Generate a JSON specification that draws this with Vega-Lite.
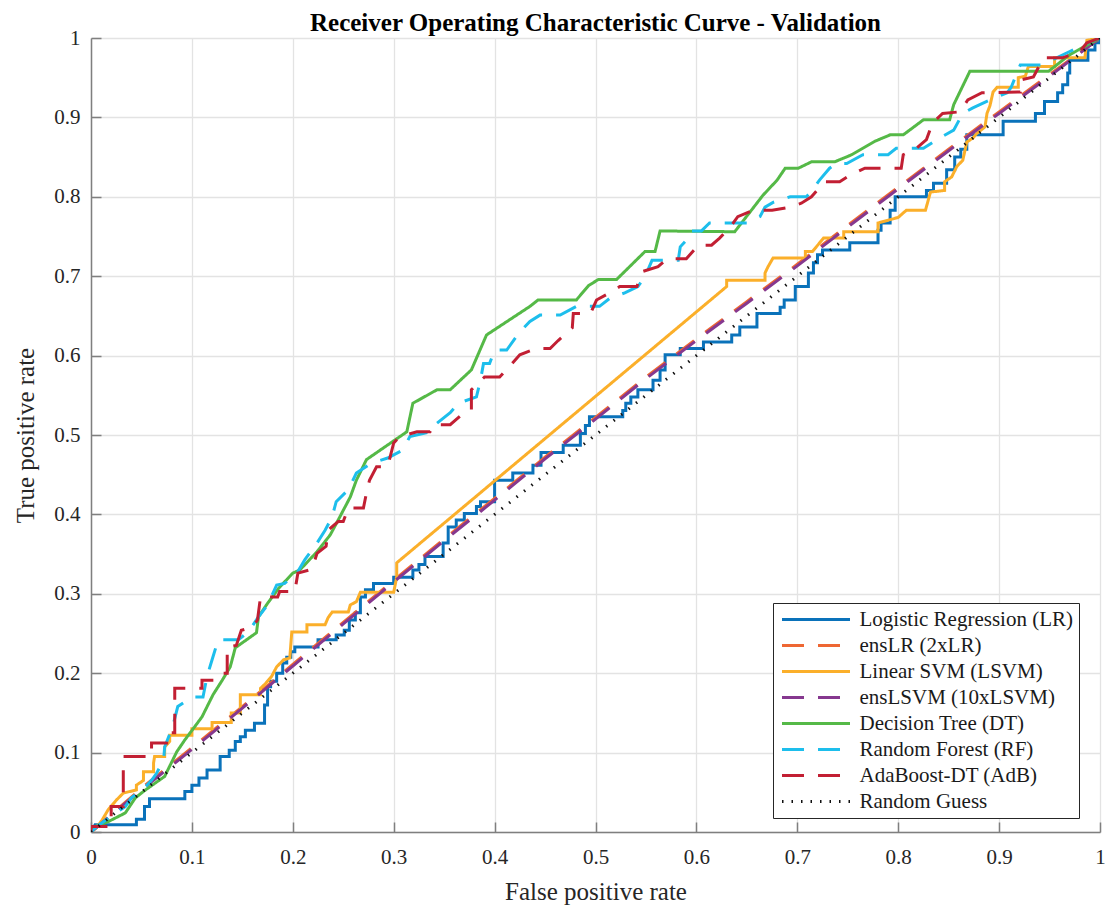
{
  "$schema": "https://vega.github.io/schema/vega-lite/v6.json",
  "width": 1009,
  "height": 794,
  "autosize": "none",
  "padding": {"left": 91, "top": 38, "right": 12, "bottom": 74},
  "background": "white",
  "title": {"text": "Receiver Operating Characteristic Curve - Validation", "font": "Liberation Serif", "fontSize": 25, "fontWeight": "bold", "color": "#000000", "anchor": "middle", "frame": "group", "offset": -8.5},
  "config": {"view": {"stroke": null}},
  "data": {"values": [
    {"m":"Logistic Regression (LR)","x":0,"y":0},{"m":"Logistic Regression (LR)","x":0.004,"y":0.009},{"m":"Logistic Regression (LR)","x":0.045,"y":0.009},{"m":"Logistic Regression (LR)","x":0.045,"y":0.016},{"m":"Logistic Regression (LR)","x":0.053,"y":0.016},{"m":"Logistic Regression (LR)","x":0.053,"y":0.032},{"m":"Logistic Regression (LR)","x":0.058,"y":0.032},{"m":"Logistic Regression (LR)","x":0.058,"y":0.042},{"m":"Logistic Regression (LR)","x":0.093,"y":0.042},{"m":"Logistic Regression (LR)","x":0.093,"y":0.051},{"m":"Logistic Regression (LR)","x":0.1,"y":0.051},{"m":"Logistic Regression (LR)","x":0.1,"y":0.059},{"m":"Logistic Regression (LR)","x":0.107,"y":0.059},{"m":"Logistic Regression (LR)","x":0.107,"y":0.068},{"m":"Logistic Regression (LR)","x":0.115,"y":0.068},{"m":"Logistic Regression (LR)","x":0.115,"y":0.078},{"m":"Logistic Regression (LR)","x":0.128,"y":0.078},{"m":"Logistic Regression (LR)","x":0.128,"y":0.095},{"m":"Logistic Regression (LR)","x":0.137,"y":0.095},{"m":"Logistic Regression (LR)","x":0.137,"y":0.103},{"m":"Logistic Regression (LR)","x":0.143,"y":0.103},{"m":"Logistic Regression (LR)","x":0.143,"y":0.114},{"m":"Logistic Regression (LR)","x":0.148,"y":0.114},{"m":"Logistic Regression (LR)","x":0.148,"y":0.12},{"m":"Logistic Regression (LR)","x":0.153,"y":0.12},{"m":"Logistic Regression (LR)","x":0.153,"y":0.128},{"m":"Logistic Regression (LR)","x":0.162,"y":0.128},{"m":"Logistic Regression (LR)","x":0.162,"y":0.137},{"m":"Logistic Regression (LR)","x":0.172,"y":0.137},{"m":"Logistic Regression (LR)","x":0.172,"y":0.16},{"m":"Logistic Regression (LR)","x":0.175,"y":0.16},{"m":"Logistic Regression (LR)","x":0.175,"y":0.183},{"m":"Logistic Regression (LR)","x":0.178,"y":0.183},{"m":"Logistic Regression (LR)","x":0.178,"y":0.19},{"m":"Logistic Regression (LR)","x":0.184,"y":0.19},{"m":"Logistic Regression (LR)","x":0.184,"y":0.2},{"m":"Logistic Regression (LR)","x":0.19,"y":0.2},{"m":"Logistic Regression (LR)","x":0.19,"y":0.213},{"m":"Logistic Regression (LR)","x":0.194,"y":0.213},{"m":"Logistic Regression (LR)","x":0.194,"y":0.22},{"m":"Logistic Regression (LR)","x":0.198,"y":0.22},{"m":"Logistic Regression (LR)","x":0.198,"y":0.227},{"m":"Logistic Regression (LR)","x":0.202,"y":0.227},{"m":"Logistic Regression (LR)","x":0.202,"y":0.233},{"m":"Logistic Regression (LR)","x":0.225,"y":0.233},{"m":"Logistic Regression (LR)","x":0.225,"y":0.242},{"m":"Logistic Regression (LR)","x":0.243,"y":0.242},{"m":"Logistic Regression (LR)","x":0.243,"y":0.248},{"m":"Logistic Regression (LR)","x":0.251,"y":0.248},{"m":"Logistic Regression (LR)","x":0.251,"y":0.254},{"m":"Logistic Regression (LR)","x":0.256,"y":0.254},{"m":"Logistic Regression (LR)","x":0.256,"y":0.267},{"m":"Logistic Regression (LR)","x":0.262,"y":0.267},{"m":"Logistic Regression (LR)","x":0.262,"y":0.276},{"m":"Logistic Regression (LR)","x":0.267,"y":0.276},{"m":"Logistic Regression (LR)","x":0.267,"y":0.296},{"m":"Logistic Regression (LR)","x":0.272,"y":0.296},{"m":"Logistic Regression (LR)","x":0.272,"y":0.305},{"m":"Logistic Regression (LR)","x":0.28,"y":0.305},{"m":"Logistic Regression (LR)","x":0.28,"y":0.313},{"m":"Logistic Regression (LR)","x":0.3,"y":0.313},{"m":"Logistic Regression (LR)","x":0.3,"y":0.321},{"m":"Logistic Regression (LR)","x":0.319,"y":0.321},{"m":"Logistic Regression (LR)","x":0.319,"y":0.33},{"m":"Logistic Regression (LR)","x":0.325,"y":0.33},{"m":"Logistic Regression (LR)","x":0.325,"y":0.337},{"m":"Logistic Regression (LR)","x":0.331,"y":0.337},{"m":"Logistic Regression (LR)","x":0.331,"y":0.347},{"m":"Logistic Regression (LR)","x":0.349,"y":0.347},{"m":"Logistic Regression (LR)","x":0.349,"y":0.364},{"m":"Logistic Regression (LR)","x":0.354,"y":0.364},{"m":"Logistic Regression (LR)","x":0.354,"y":0.384},{"m":"Logistic Regression (LR)","x":0.362,"y":0.384},{"m":"Logistic Regression (LR)","x":0.362,"y":0.393},{"m":"Logistic Regression (LR)","x":0.37,"y":0.393},{"m":"Logistic Regression (LR)","x":0.37,"y":0.401},{"m":"Logistic Regression (LR)","x":0.382,"y":0.401},{"m":"Logistic Regression (LR)","x":0.382,"y":0.41},{"m":"Logistic Regression (LR)","x":0.386,"y":0.41},{"m":"Logistic Regression (LR)","x":0.386,"y":0.416},{"m":"Logistic Regression (LR)","x":0.4,"y":0.416},{"m":"Logistic Regression (LR)","x":0.4,"y":0.443},{"m":"Logistic Regression (LR)","x":0.418,"y":0.443},{"m":"Logistic Regression (LR)","x":0.418,"y":0.452},{"m":"Logistic Regression (LR)","x":0.438,"y":0.452},{"m":"Logistic Regression (LR)","x":0.438,"y":0.462},{"m":"Logistic Regression (LR)","x":0.446,"y":0.462},{"m":"Logistic Regression (LR)","x":0.446,"y":0.478},{"m":"Logistic Regression (LR)","x":0.468,"y":0.478},{"m":"Logistic Regression (LR)","x":0.468,"y":0.487},{"m":"Logistic Regression (LR)","x":0.485,"y":0.487},{"m":"Logistic Regression (LR)","x":0.485,"y":0.502},{"m":"Logistic Regression (LR)","x":0.49,"y":0.502},{"m":"Logistic Regression (LR)","x":0.49,"y":0.512},{"m":"Logistic Regression (LR)","x":0.494,"y":0.512},{"m":"Logistic Regression (LR)","x":0.494,"y":0.523},{"m":"Logistic Regression (LR)","x":0.527,"y":0.523},{"m":"Logistic Regression (LR)","x":0.527,"y":0.531},{"m":"Logistic Regression (LR)","x":0.53,"y":0.531},{"m":"Logistic Regression (LR)","x":0.53,"y":0.54},{"m":"Logistic Regression (LR)","x":0.535,"y":0.54},{"m":"Logistic Regression (LR)","x":0.535,"y":0.548},{"m":"Logistic Regression (LR)","x":0.542,"y":0.548},{"m":"Logistic Regression (LR)","x":0.542,"y":0.557},{"m":"Logistic Regression (LR)","x":0.557,"y":0.557},{"m":"Logistic Regression (LR)","x":0.557,"y":0.569},{"m":"Logistic Regression (LR)","x":0.564,"y":0.569},{"m":"Logistic Regression (LR)","x":0.564,"y":0.582},{"m":"Logistic Regression (LR)","x":0.569,"y":0.582},{"m":"Logistic Regression (LR)","x":0.569,"y":0.601},{"m":"Logistic Regression (LR)","x":0.584,"y":0.601},{"m":"Logistic Regression (LR)","x":0.584,"y":0.609},{"m":"Logistic Regression (LR)","x":0.607,"y":0.609},{"m":"Logistic Regression (LR)","x":0.607,"y":0.617},{"m":"Logistic Regression (LR)","x":0.635,"y":0.617},{"m":"Logistic Regression (LR)","x":0.635,"y":0.626},{"m":"Logistic Regression (LR)","x":0.643,"y":0.626},{"m":"Logistic Regression (LR)","x":0.643,"y":0.636},{"m":"Logistic Regression (LR)","x":0.66,"y":0.636},{"m":"Logistic Regression (LR)","x":0.66,"y":0.653},{"m":"Logistic Regression (LR)","x":0.683,"y":0.653},{"m":"Logistic Regression (LR)","x":0.683,"y":0.661},{"m":"Logistic Regression (LR)","x":0.687,"y":0.661},{"m":"Logistic Regression (LR)","x":0.687,"y":0.67},{"m":"Logistic Regression (LR)","x":0.698,"y":0.67},{"m":"Logistic Regression (LR)","x":0.698,"y":0.687},{"m":"Logistic Regression (LR)","x":0.711,"y":0.687},{"m":"Logistic Regression (LR)","x":0.711,"y":0.704},{"m":"Logistic Regression (LR)","x":0.716,"y":0.704},{"m":"Logistic Regression (LR)","x":0.716,"y":0.717},{"m":"Logistic Regression (LR)","x":0.72,"y":0.717},{"m":"Logistic Regression (LR)","x":0.72,"y":0.727},{"m":"Logistic Regression (LR)","x":0.725,"y":0.727},{"m":"Logistic Regression (LR)","x":0.725,"y":0.733},{"m":"Logistic Regression (LR)","x":0.752,"y":0.733},{"m":"Logistic Regression (LR)","x":0.752,"y":0.742},{"m":"Logistic Regression (LR)","x":0.78,"y":0.742},{"m":"Logistic Regression (LR)","x":0.78,"y":0.758},{"m":"Logistic Regression (LR)","x":0.783,"y":0.758},{"m":"Logistic Regression (LR)","x":0.783,"y":0.767},{"m":"Logistic Regression (LR)","x":0.792,"y":0.767},{"m":"Logistic Regression (LR)","x":0.792,"y":0.783},{"m":"Logistic Regression (LR)","x":0.797,"y":0.783},{"m":"Logistic Regression (LR)","x":0.797,"y":0.8},{"m":"Logistic Regression (LR)","x":0.828,"y":0.8},{"m":"Logistic Regression (LR)","x":0.828,"y":0.808},{"m":"Logistic Regression (LR)","x":0.835,"y":0.808},{"m":"Logistic Regression (LR)","x":0.835,"y":0.817},{"m":"Logistic Regression (LR)","x":0.848,"y":0.817},{"m":"Logistic Regression (LR)","x":0.848,"y":0.834},{"m":"Logistic Regression (LR)","x":0.856,"y":0.834},{"m":"Logistic Regression (LR)","x":0.856,"y":0.85},{"m":"Logistic Regression (LR)","x":0.862,"y":0.85},{"m":"Logistic Regression (LR)","x":0.862,"y":0.86},{"m":"Logistic Regression (LR)","x":0.868,"y":0.86},{"m":"Logistic Regression (LR)","x":0.868,"y":0.878},{"m":"Logistic Regression (LR)","x":0.904,"y":0.878},{"m":"Logistic Regression (LR)","x":0.904,"y":0.895},{"m":"Logistic Regression (LR)","x":0.936,"y":0.895},{"m":"Logistic Regression (LR)","x":0.936,"y":0.905},{"m":"Logistic Regression (LR)","x":0.945,"y":0.905},{"m":"Logistic Regression (LR)","x":0.945,"y":0.92},{"m":"Logistic Regression (LR)","x":0.958,"y":0.92},{"m":"Logistic Regression (LR)","x":0.958,"y":0.931},{"m":"Logistic Regression (LR)","x":0.963,"y":0.931},{"m":"Logistic Regression (LR)","x":0.963,"y":0.941},{"m":"Logistic Regression (LR)","x":0.968,"y":0.941},{"m":"Logistic Regression (LR)","x":0.968,"y":0.956},{"m":"Logistic Regression (LR)","x":0.97,"y":0.956},{"m":"Logistic Regression (LR)","x":0.97,"y":0.972},{"m":"Logistic Regression (LR)","x":0.988,"y":0.972},{"m":"Logistic Regression (LR)","x":0.988,"y":0.985},{"m":"Logistic Regression (LR)","x":0.995,"y":0.985},{"m":"Logistic Regression (LR)","x":0.995,"y":0.994},{"m":"Logistic Regression (LR)","x":1,"y":0.994},{"m":"Logistic Regression (LR)","x":1,"y":1},

    {"m":"ensLR (2xLR)","x":0,"y":0},{"m":"ensLR (2xLR)","x":0.05,"y":0.055},{"m":"ensLR (2xLR)","x":0.1,"y":0.106},{"m":"ensLR (2xLR)","x":0.15,"y":0.158},{"m":"ensLR (2xLR)","x":0.2,"y":0.211},{"m":"ensLR (2xLR)","x":0.25,"y":0.264},{"m":"ensLR (2xLR)","x":0.3,"y":0.317},{"m":"ensLR (2xLR)","x":0.35,"y":0.369},{"m":"ensLR (2xLR)","x":0.4,"y":0.42},{"m":"ensLR (2xLR)","x":0.45,"y":0.472},{"m":"ensLR (2xLR)","x":0.5,"y":0.522},{"m":"ensLR (2xLR)","x":0.55,"y":0.573},{"m":"ensLR (2xLR)","x":0.6,"y":0.621},{"m":"ensLR (2xLR)","x":0.65,"y":0.668},{"m":"ensLR (2xLR)","x":0.7,"y":0.715},{"m":"ensLR (2xLR)","x":0.75,"y":0.764},{"m":"ensLR (2xLR)","x":0.8,"y":0.812},{"m":"ensLR (2xLR)","x":0.85,"y":0.86},{"m":"ensLR (2xLR)","x":0.9,"y":0.907},{"m":"ensLR (2xLR)","x":0.95,"y":0.954},{"m":"ensLR (2xLR)","x":1,"y":1},

    {"m":"Linear SVM (LSVM)","x":0,"y":0},{"m":"Linear SVM (LSVM)","x":0.005,"y":0.005},{"m":"Linear SVM (LSVM)","x":0.011,"y":0.015},{"m":"Linear SVM (LSVM)","x":0.017,"y":0.028},{"m":"Linear SVM (LSVM)","x":0.025,"y":0.04},{"m":"Linear SVM (LSVM)","x":0.032,"y":0.049},{"m":"Linear SVM (LSVM)","x":0.045,"y":0.053},{"m":"Linear SVM (LSVM)","x":0.045,"y":0.059},{"m":"Linear SVM (LSVM)","x":0.052,"y":0.065},{"m":"Linear SVM (LSVM)","x":0.052,"y":0.076},{"m":"Linear SVM (LSVM)","x":0.062,"y":0.076},{"m":"Linear SVM (LSVM)","x":0.062,"y":0.087},{"m":"Linear SVM (LSVM)","x":0.063,"y":0.095},{"m":"Linear SVM (LSVM)","x":0.073,"y":0.095},{"m":"Linear SVM (LSVM)","x":0.073,"y":0.107},{"m":"Linear SVM (LSVM)","x":0.078,"y":0.114},{"m":"Linear SVM (LSVM)","x":0.078,"y":0.122},{"m":"Linear SVM (LSVM)","x":0.1,"y":0.122},{"m":"Linear SVM (LSVM)","x":0.1,"y":0.13},{"m":"Linear SVM (LSVM)","x":0.12,"y":0.13},{"m":"Linear SVM (LSVM)","x":0.12,"y":0.138},{"m":"Linear SVM (LSVM)","x":0.139,"y":0.138},{"m":"Linear SVM (LSVM)","x":0.139,"y":0.15},{"m":"Linear SVM (LSVM)","x":0.148,"y":0.15},{"m":"Linear SVM (LSVM)","x":0.148,"y":0.173},{"m":"Linear SVM (LSVM)","x":0.168,"y":0.173},{"m":"Linear SVM (LSVM)","x":0.168,"y":0.181},{"m":"Linear SVM (LSVM)","x":0.173,"y":0.187},{"m":"Linear SVM (LSVM)","x":0.179,"y":0.196},{"m":"Linear SVM (LSVM)","x":0.184,"y":0.208},{"m":"Linear SVM (LSVM)","x":0.191,"y":0.217},{"m":"Linear SVM (LSVM)","x":0.197,"y":0.219},{"m":"Linear SVM (LSVM)","x":0.199,"y":0.252},{"m":"Linear SVM (LSVM)","x":0.214,"y":0.252},{"m":"Linear SVM (LSVM)","x":0.214,"y":0.261},{"m":"Linear SVM (LSVM)","x":0.232,"y":0.261},{"m":"Linear SVM (LSVM)","x":0.235,"y":0.27},{"m":"Linear SVM (LSVM)","x":0.239,"y":0.277},{"m":"Linear SVM (LSVM)","x":0.255,"y":0.277},{"m":"Linear SVM (LSVM)","x":0.257,"y":0.286},{"m":"Linear SVM (LSVM)","x":0.263,"y":0.29},{"m":"Linear SVM (LSVM)","x":0.267,"y":0.302},{"m":"Linear SVM (LSVM)","x":0.3,"y":0.302},{"m":"Linear SVM (LSVM)","x":0.303,"y":0.321},{"m":"Linear SVM (LSVM)","x":0.303,"y":0.339},{"m":"Linear SVM (LSVM)","x":0.63,"y":0.687},{"m":"Linear SVM (LSVM)","x":0.63,"y":0.695},{"m":"Linear SVM (LSVM)","x":0.668,"y":0.695},{"m":"Linear SVM (LSVM)","x":0.668,"y":0.704},{"m":"Linear SVM (LSVM)","x":0.671,"y":0.712},{"m":"Linear SVM (LSVM)","x":0.676,"y":0.723},{"m":"Linear SVM (LSVM)","x":0.708,"y":0.723},{"m":"Linear SVM (LSVM)","x":0.708,"y":0.731},{"m":"Linear SVM (LSVM)","x":0.715,"y":0.731},{"m":"Linear SVM (LSVM)","x":0.726,"y":0.748},{"m":"Linear SVM (LSVM)","x":0.746,"y":0.748},{"m":"Linear SVM (LSVM)","x":0.746,"y":0.756},{"m":"Linear SVM (LSVM)","x":0.78,"y":0.756},{"m":"Linear SVM (LSVM)","x":0.78,"y":0.767},{"m":"Linear SVM (LSVM)","x":0.8,"y":0.774},{"m":"Linear SVM (LSVM)","x":0.808,"y":0.783},{"m":"Linear SVM (LSVM)","x":0.827,"y":0.783},{"m":"Linear SVM (LSVM)","x":0.832,"y":0.806},{"m":"Linear SVM (LSVM)","x":0.846,"y":0.808},{"m":"Linear SVM (LSVM)","x":0.846,"y":0.819},{"m":"Linear SVM (LSVM)","x":0.853,"y":0.825},{"m":"Linear SVM (LSVM)","x":0.858,"y":0.838},{"m":"Linear SVM (LSVM)","x":0.864,"y":0.846},{"m":"Linear SVM (LSVM)","x":0.868,"y":0.869},{"m":"Linear SVM (LSVM)","x":0.874,"y":0.874},{"m":"Linear SVM (LSVM)","x":0.878,"y":0.88},{"m":"Linear SVM (LSVM)","x":0.886,"y":0.888},{"m":"Linear SVM (LSVM)","x":0.888,"y":0.905},{"m":"Linear SVM (LSVM)","x":0.891,"y":0.915},{"m":"Linear SVM (LSVM)","x":0.894,"y":0.932},{"m":"Linear SVM (LSVM)","x":0.898,"y":0.938},{"m":"Linear SVM (LSVM)","x":0.919,"y":0.938},{"m":"Linear SVM (LSVM)","x":0.919,"y":0.95},{"m":"Linear SVM (LSVM)","x":0.926,"y":0.952},{"m":"Linear SVM (LSVM)","x":0.929,"y":0.964},{"m":"Linear SVM (LSVM)","x":0.955,"y":0.964},{"m":"Linear SVM (LSVM)","x":0.955,"y":0.975},{"m":"Linear SVM (LSVM)","x":0.985,"y":0.975},{"m":"Linear SVM (LSVM)","x":0.987,"y":0.997},{"m":"Linear SVM (LSVM)","x":1,"y":1},

    {"m":"ensLSVM (10xLSVM)","x":0,"y":0},{"m":"ensLSVM (10xLSVM)","x":0.05,"y":0.053},{"m":"ensLSVM (10xLSVM)","x":0.1,"y":0.104},{"m":"ensLSVM (10xLSVM)","x":0.15,"y":0.156},{"m":"ensLSVM (10xLSVM)","x":0.2,"y":0.209},{"m":"ensLSVM (10xLSVM)","x":0.25,"y":0.262},{"m":"ensLSVM (10xLSVM)","x":0.3,"y":0.315},{"m":"ensLSVM (10xLSVM)","x":0.35,"y":0.367},{"m":"ensLSVM (10xLSVM)","x":0.4,"y":0.418},{"m":"ensLSVM (10xLSVM)","x":0.45,"y":0.47},{"m":"ensLSVM (10xLSVM)","x":0.5,"y":0.52},{"m":"ensLSVM (10xLSVM)","x":0.55,"y":0.571},{"m":"ensLSVM (10xLSVM)","x":0.6,"y":0.619},{"m":"ensLSVM (10xLSVM)","x":0.65,"y":0.666},{"m":"ensLSVM (10xLSVM)","x":0.7,"y":0.713},{"m":"ensLSVM (10xLSVM)","x":0.75,"y":0.762},{"m":"ensLSVM (10xLSVM)","x":0.8,"y":0.81},{"m":"ensLSVM (10xLSVM)","x":0.85,"y":0.858},{"m":"ensLSVM (10xLSVM)","x":0.9,"y":0.905},{"m":"ensLSVM (10xLSVM)","x":0.95,"y":0.952},{"m":"ensLSVM (10xLSVM)","x":1,"y":1},

    {"m":"Decision Tree (DT)","x":0,"y":0},{"m":"Decision Tree (DT)","x":0.004,"y":0.007},{"m":"Decision Tree (DT)","x":0.017,"y":0.013},{"m":"Decision Tree (DT)","x":0.034,"y":0.024},{"m":"Decision Tree (DT)","x":0.044,"y":0.043},{"m":"Decision Tree (DT)","x":0.054,"y":0.053},{"m":"Decision Tree (DT)","x":0.073,"y":0.07},{"m":"Decision Tree (DT)","x":0.085,"y":0.101},{"m":"Decision Tree (DT)","x":0.093,"y":0.116},{"m":"Decision Tree (DT)","x":0.103,"y":0.133},{"m":"Decision Tree (DT)","x":0.11,"y":0.145},{"m":"Decision Tree (DT)","x":0.121,"y":0.173},{"m":"Decision Tree (DT)","x":0.13,"y":0.191},{"m":"Decision Tree (DT)","x":0.138,"y":0.208},{"m":"Decision Tree (DT)","x":0.143,"y":0.232},{"m":"Decision Tree (DT)","x":0.164,"y":0.251},{"m":"Decision Tree (DT)","x":0.166,"y":0.271},{"m":"Decision Tree (DT)","x":0.175,"y":0.288},{"m":"Decision Tree (DT)","x":0.186,"y":0.307},{"m":"Decision Tree (DT)","x":0.2,"y":0.326},{"m":"Decision Tree (DT)","x":0.207,"y":0.33},{"m":"Decision Tree (DT)","x":0.224,"y":0.353},{"m":"Decision Tree (DT)","x":0.237,"y":0.374},{"m":"Decision Tree (DT)","x":0.245,"y":0.393},{"m":"Decision Tree (DT)","x":0.257,"y":0.422},{"m":"Decision Tree (DT)","x":0.263,"y":0.443},{"m":"Decision Tree (DT)","x":0.273,"y":0.469},{"m":"Decision Tree (DT)","x":0.313,"y":0.504},{"m":"Decision Tree (DT)","x":0.319,"y":0.54},{"m":"Decision Tree (DT)","x":0.343,"y":0.557},{"m":"Decision Tree (DT)","x":0.356,"y":0.557},{"m":"Decision Tree (DT)","x":0.377,"y":0.582},{"m":"Decision Tree (DT)","x":0.392,"y":0.626},{"m":"Decision Tree (DT)","x":0.435,"y":0.662},{"m":"Decision Tree (DT)","x":0.443,"y":0.67},{"m":"Decision Tree (DT)","x":0.481,"y":0.67},{"m":"Decision Tree (DT)","x":0.493,"y":0.688},{"m":"Decision Tree (DT)","x":0.503,"y":0.696},{"m":"Decision Tree (DT)","x":0.521,"y":0.696},{"m":"Decision Tree (DT)","x":0.549,"y":0.731},{"m":"Decision Tree (DT)","x":0.559,"y":0.731},{"m":"Decision Tree (DT)","x":0.564,"y":0.757},{"m":"Decision Tree (DT)","x":0.638,"y":0.756},{"m":"Decision Tree (DT)","x":0.666,"y":0.802},{"m":"Decision Tree (DT)","x":0.68,"y":0.821},{"m":"Decision Tree (DT)","x":0.688,"y":0.836},{"m":"Decision Tree (DT)","x":0.701,"y":0.836},{"m":"Decision Tree (DT)","x":0.714,"y":0.844},{"m":"Decision Tree (DT)","x":0.737,"y":0.844},{"m":"Decision Tree (DT)","x":0.754,"y":0.853},{"m":"Decision Tree (DT)","x":0.777,"y":0.87},{"m":"Decision Tree (DT)","x":0.792,"y":0.878},{"m":"Decision Tree (DT)","x":0.805,"y":0.878},{"m":"Decision Tree (DT)","x":0.825,"y":0.897},{"m":"Decision Tree (DT)","x":0.851,"y":0.897},{"m":"Decision Tree (DT)","x":0.855,"y":0.916},{"m":"Decision Tree (DT)","x":0.871,"y":0.958},{"m":"Decision Tree (DT)","x":0.949,"y":0.958},{"m":"Decision Tree (DT)","x":0.97,"y":0.979},{"m":"Decision Tree (DT)","x":1,"y":1},

    {"m":"Random Forest (RF)","x":0,"y":0},{"m":"Random Forest (RF)","x":0.006,"y":0.007},{"m":"Random Forest (RF)","x":0.02,"y":0.02},{"m":"Random Forest (RF)","x":0.034,"y":0.032},{"m":"Random Forest (RF)","x":0.04,"y":0.043},{"m":"Random Forest (RF)","x":0.054,"y":0.057},{"m":"Random Forest (RF)","x":0.06,"y":0.065},{"m":"Random Forest (RF)","x":0.065,"y":0.074},{"m":"Random Forest (RF)","x":0.072,"y":0.091},{"m":"Random Forest (RF)","x":0.073,"y":0.107},{"m":"Random Forest (RF)","x":0.081,"y":0.133},{"m":"Random Forest (RF)","x":0.086,"y":0.158},{"m":"Random Forest (RF)","x":0.1,"y":0.17},{"m":"Random Forest (RF)","x":0.111,"y":0.17},{"m":"Random Forest (RF)","x":0.115,"y":0.196},{"m":"Random Forest (RF)","x":0.12,"y":0.217},{"m":"Random Forest (RF)","x":0.126,"y":0.242},{"m":"Random Forest (RF)","x":0.146,"y":0.242},{"m":"Random Forest (RF)","x":0.156,"y":0.252},{"m":"Random Forest (RF)","x":0.166,"y":0.271},{"m":"Random Forest (RF)","x":0.175,"y":0.286},{"m":"Random Forest (RF)","x":0.184,"y":0.311},{"m":"Random Forest (RF)","x":0.192,"y":0.313},{"m":"Random Forest (RF)","x":0.205,"y":0.328},{"m":"Random Forest (RF)","x":0.212,"y":0.343},{"m":"Random Forest (RF)","x":0.224,"y":0.364},{"m":"Random Forest (RF)","x":0.232,"y":0.38},{"m":"Random Forest (RF)","x":0.239,"y":0.397},{"m":"Random Forest (RF)","x":0.243,"y":0.416},{"m":"Random Forest (RF)","x":0.255,"y":0.431},{"m":"Random Forest (RF)","x":0.263,"y":0.452},{"m":"Random Forest (RF)","x":0.277,"y":0.464},{"m":"Random Forest (RF)","x":0.294,"y":0.471},{"m":"Random Forest (RF)","x":0.309,"y":0.481},{"m":"Random Forest (RF)","x":0.316,"y":0.498},{"m":"Random Forest (RF)","x":0.336,"y":0.504},{"m":"Random Forest (RF)","x":0.343,"y":0.515},{"m":"Random Forest (RF)","x":0.356,"y":0.528},{"m":"Random Forest (RF)","x":0.364,"y":0.54},{"m":"Random Forest (RF)","x":0.382,"y":0.548},{"m":"Random Forest (RF)","x":0.386,"y":0.569},{"m":"Random Forest (RF)","x":0.389,"y":0.59},{"m":"Random Forest (RF)","x":0.395,"y":0.59},{"m":"Random Forest (RF)","x":0.4,"y":0.607},{"m":"Random Forest (RF)","x":0.412,"y":0.607},{"m":"Random Forest (RF)","x":0.425,"y":0.63},{"m":"Random Forest (RF)","x":0.435,"y":0.643},{"m":"Random Forest (RF)","x":0.445,"y":0.651},{"m":"Random Forest (RF)","x":0.465,"y":0.651},{"m":"Random Forest (RF)","x":0.481,"y":0.662},{"m":"Random Forest (RF)","x":0.504,"y":0.662},{"m":"Random Forest (RF)","x":0.514,"y":0.672},{"m":"Random Forest (RF)","x":0.529,"y":0.679},{"m":"Random Forest (RF)","x":0.542,"y":0.687},{"m":"Random Forest (RF)","x":0.549,"y":0.699},{"m":"Random Forest (RF)","x":0.556,"y":0.72},{"m":"Random Forest (RF)","x":0.582,"y":0.72},{"m":"Random Forest (RF)","x":0.584,"y":0.737},{"m":"Random Forest (RF)","x":0.592,"y":0.748},{"m":"Random Forest (RF)","x":0.594,"y":0.757},{"m":"Random Forest (RF)","x":0.605,"y":0.757},{"m":"Random Forest (RF)","x":0.613,"y":0.767},{"m":"Random Forest (RF)","x":0.65,"y":0.767},{"m":"Random Forest (RF)","x":0.663,"y":0.775},{"m":"Random Forest (RF)","x":0.668,"y":0.787},{"m":"Random Forest (RF)","x":0.676,"y":0.793},{"m":"Random Forest (RF)","x":0.693,"y":0.8},{"m":"Random Forest (RF)","x":0.709,"y":0.8},{"m":"Random Forest (RF)","x":0.712,"y":0.804},{"m":"Random Forest (RF)","x":0.722,"y":0.821},{"m":"Random Forest (RF)","x":0.732,"y":0.836},{"m":"Random Forest (RF)","x":0.739,"y":0.842},{"m":"Random Forest (RF)","x":0.749,"y":0.842},{"m":"Random Forest (RF)","x":0.765,"y":0.853},{"m":"Random Forest (RF)","x":0.79,"y":0.853},{"m":"Random Forest (RF)","x":0.798,"y":0.861},{"m":"Random Forest (RF)","x":0.825,"y":0.861},{"m":"Random Forest (RF)","x":0.841,"y":0.874},{"m":"Random Forest (RF)","x":0.855,"y":0.884},{"m":"Random Forest (RF)","x":0.864,"y":0.905},{"m":"Random Forest (RF)","x":0.874,"y":0.912},{"m":"Random Forest (RF)","x":0.891,"y":0.922},{"m":"Random Forest (RF)","x":0.908,"y":0.931},{"m":"Random Forest (RF)","x":0.912,"y":0.938},{"m":"Random Forest (RF)","x":0.921,"y":0.966},{"m":"Random Forest (RF)","x":0.941,"y":0.966},{"m":"Random Forest (RF)","x":0.957,"y":0.975},{"m":"Random Forest (RF)","x":0.97,"y":0.983},{"m":"Random Forest (RF)","x":0.99,"y":0.995},{"m":"Random Forest (RF)","x":1,"y":1},

    {"m":"AdaBoost-DT (AdB)","x":0,"y":0},{"m":"AdaBoost-DT (AdB)","x":0,"y":0.007},{"m":"AdaBoost-DT (AdB)","x":0.02,"y":0.007},{"m":"AdaBoost-DT (AdB)","x":0.02,"y":0.032},{"m":"AdaBoost-DT (AdB)","x":0.032,"y":0.032},{"m":"AdaBoost-DT (AdB)","x":0.032,"y":0.095},{"m":"AdaBoost-DT (AdB)","x":0.06,"y":0.095},{"m":"AdaBoost-DT (AdB)","x":0.06,"y":0.112},{"m":"AdaBoost-DT (AdB)","x":0.075,"y":0.112},{"m":"AdaBoost-DT (AdB)","x":0.075,"y":0.125},{"m":"AdaBoost-DT (AdB)","x":0.083,"y":0.125},{"m":"AdaBoost-DT (AdB)","x":0.083,"y":0.181},{"m":"AdaBoost-DT (AdB)","x":0.11,"y":0.181},{"m":"AdaBoost-DT (AdB)","x":0.11,"y":0.191},{"m":"AdaBoost-DT (AdB)","x":0.123,"y":0.191},{"m":"AdaBoost-DT (AdB)","x":0.128,"y":0.2},{"m":"AdaBoost-DT (AdB)","x":0.135,"y":0.2},{"m":"AdaBoost-DT (AdB)","x":0.135,"y":0.233},{"m":"AdaBoost-DT (AdB)","x":0.144,"y":0.235},{"m":"AdaBoost-DT (AdB)","x":0.149,"y":0.254},{"m":"AdaBoost-DT (AdB)","x":0.16,"y":0.258},{"m":"AdaBoost-DT (AdB)","x":0.165,"y":0.267},{"m":"AdaBoost-DT (AdB)","x":0.168,"y":0.296},{"m":"AdaBoost-DT (AdB)","x":0.185,"y":0.296},{"m":"AdaBoost-DT (AdB)","x":0.187,"y":0.303},{"m":"AdaBoost-DT (AdB)","x":0.202,"y":0.303},{"m":"AdaBoost-DT (AdB)","x":0.205,"y":0.326},{"m":"AdaBoost-DT (AdB)","x":0.219,"y":0.331},{"m":"AdaBoost-DT (AdB)","x":0.224,"y":0.351},{"m":"AdaBoost-DT (AdB)","x":0.233,"y":0.36},{"m":"AdaBoost-DT (AdB)","x":0.235,"y":0.38},{"m":"AdaBoost-DT (AdB)","x":0.245,"y":0.391},{"m":"AdaBoost-DT (AdB)","x":0.25,"y":0.391},{"m":"AdaBoost-DT (AdB)","x":0.255,"y":0.408},{"m":"AdaBoost-DT (AdB)","x":0.27,"y":0.408},{"m":"AdaBoost-DT (AdB)","x":0.273,"y":0.427},{"m":"AdaBoost-DT (AdB)","x":0.276,"y":0.443},{"m":"AdaBoost-DT (AdB)","x":0.283,"y":0.46},{"m":"AdaBoost-DT (AdB)","x":0.294,"y":0.46},{"m":"AdaBoost-DT (AdB)","x":0.296,"y":0.47},{"m":"AdaBoost-DT (AdB)","x":0.3,"y":0.49},{"m":"AdaBoost-DT (AdB)","x":0.306,"y":0.498},{"m":"AdaBoost-DT (AdB)","x":0.323,"y":0.504},{"m":"AdaBoost-DT (AdB)","x":0.336,"y":0.504},{"m":"AdaBoost-DT (AdB)","x":0.34,"y":0.513},{"m":"AdaBoost-DT (AdB)","x":0.356,"y":0.513},{"m":"AdaBoost-DT (AdB)","x":0.367,"y":0.525},{"m":"AdaBoost-DT (AdB)","x":0.377,"y":0.531},{"m":"AdaBoost-DT (AdB)","x":0.377,"y":0.557},{"m":"AdaBoost-DT (AdB)","x":0.39,"y":0.573},{"m":"AdaBoost-DT (AdB)","x":0.405,"y":0.573},{"m":"AdaBoost-DT (AdB)","x":0.413,"y":0.584},{"m":"AdaBoost-DT (AdB)","x":0.425,"y":0.601},{"m":"AdaBoost-DT (AdB)","x":0.441,"y":0.609},{"m":"AdaBoost-DT (AdB)","x":0.455,"y":0.609},{"m":"AdaBoost-DT (AdB)","x":0.463,"y":0.619},{"m":"AdaBoost-DT (AdB)","x":0.477,"y":0.635},{"m":"AdaBoost-DT (AdB)","x":0.478,"y":0.653},{"m":"AdaBoost-DT (AdB)","x":0.495,"y":0.653},{"m":"AdaBoost-DT (AdB)","x":0.501,"y":0.67},{"m":"AdaBoost-DT (AdB)","x":0.514,"y":0.679},{"m":"AdaBoost-DT (AdB)","x":0.524,"y":0.687},{"m":"AdaBoost-DT (AdB)","x":0.541,"y":0.687},{"m":"AdaBoost-DT (AdB)","x":0.547,"y":0.706},{"m":"AdaBoost-DT (AdB)","x":0.562,"y":0.712},{"m":"AdaBoost-DT (AdB)","x":0.571,"y":0.722},{"m":"AdaBoost-DT (AdB)","x":0.59,"y":0.722},{"m":"AdaBoost-DT (AdB)","x":0.602,"y":0.739},{"m":"AdaBoost-DT (AdB)","x":0.615,"y":0.739},{"m":"AdaBoost-DT (AdB)","x":0.623,"y":0.748},{"m":"AdaBoost-DT (AdB)","x":0.633,"y":0.761},{"m":"AdaBoost-DT (AdB)","x":0.641,"y":0.775},{"m":"AdaBoost-DT (AdB)","x":0.656,"y":0.783},{"m":"AdaBoost-DT (AdB)","x":0.675,"y":0.783},{"m":"AdaBoost-DT (AdB)","x":0.693,"y":0.787},{"m":"AdaBoost-DT (AdB)","x":0.704,"y":0.792},{"m":"AdaBoost-DT (AdB)","x":0.714,"y":0.8},{"m":"AdaBoost-DT (AdB)","x":0.727,"y":0.819},{"m":"AdaBoost-DT (AdB)","x":0.742,"y":0.819},{"m":"AdaBoost-DT (AdB)","x":0.752,"y":0.827},{"m":"AdaBoost-DT (AdB)","x":0.767,"y":0.836},{"m":"AdaBoost-DT (AdB)","x":0.803,"y":0.836},{"m":"AdaBoost-DT (AdB)","x":0.805,"y":0.853},{"m":"AdaBoost-DT (AdB)","x":0.818,"y":0.861},{"m":"AdaBoost-DT (AdB)","x":0.828,"y":0.872},{"m":"AdaBoost-DT (AdB)","x":0.834,"y":0.893},{"m":"AdaBoost-DT (AdB)","x":0.844,"y":0.905},{"m":"AdaBoost-DT (AdB)","x":0.861,"y":0.907},{"m":"AdaBoost-DT (AdB)","x":0.869,"y":0.922},{"m":"AdaBoost-DT (AdB)","x":0.883,"y":0.931},{"m":"AdaBoost-DT (AdB)","x":0.921,"y":0.932},{"m":"AdaBoost-DT (AdB)","x":0.921,"y":0.947},{"m":"AdaBoost-DT (AdB)","x":0.934,"y":0.951},{"m":"AdaBoost-DT (AdB)","x":0.944,"y":0.975},{"m":"AdaBoost-DT (AdB)","x":0.963,"y":0.975},{"m":"AdaBoost-DT (AdB)","x":0.98,"y":0.983},{"m":"AdaBoost-DT (AdB)","x":0.987,"y":0.994},{"m":"AdaBoost-DT (AdB)","x":1,"y":1},

    {"m":"Random Guess","x":0,"y":0},{"m":"Random Guess","x":1,"y":1}
  ]},
  "mark": {"type": "line", "clip": true, "strokeCap": "butt"},
  "encoding": {
    "x": {"field": "x", "type": "quantitative", "scale": {"domain": [0, 1], "nice": false},
      "axis": {"title": "False positive rate", "values": [0,0.1,0.2,0.3,0.4,0.5,0.6,0.7,0.8,0.9,1], "format": "~g", "labelFlush": false, "labelOverlap": false,
        "grid": true, "gridColor": "#e3e3e3", "gridWidth": 1.3, "domainColor": "#7f7f7f", "domainWidth": 1.5, "tickColor": "#7f7f7f", "tickWidth": 1.5, "tickSize": -10,
        "labelFont": "Liberation Serif", "labelFontSize": 21, "labelColor": "#262626", "labelPadding": 24,
        "titleFont": "Liberation Serif", "titleFontSize": 25, "titleFontWeight": "normal", "titleColor": "#262626", "titlePadding": 12}},
    "y": {"field": "y", "type": "quantitative", "scale": {"domain": [0, 1], "nice": false},
      "axis": {"title": "True positive rate", "values": [0,0.1,0.2,0.3,0.4,0.5,0.6,0.7,0.8,0.9,1], "format": "~g", "labelFlush": false, "labelOverlap": false,
        "grid": true, "gridColor": "#e3e3e3", "gridWidth": 1.3, "domainColor": "#7f7f7f", "domainWidth": 1.5, "tickColor": "#7f7f7f", "tickWidth": 1.5, "tickSize": -10,
        "labelFont": "Liberation Serif", "labelFontSize": 21, "labelColor": "#262626", "labelPadding": 21,
        "titleFont": "Liberation Serif", "titleFontSize": 25, "titleFontWeight": "normal", "titleColor": "#262626", "titlePadding": 15}},
    "color": {"field": "m", "type": "nominal",
      "scale": {"domain": ["Logistic Regression (LR)","ensLR (2xLR)","Linear SVM (LSVM)","ensLSVM (10xLSVM)","Decision Tree (DT)","Random Forest (RF)","AdaBoost-DT (AdB)","Random Guess"],
        "range": ["#0A72BA","#EE6733","#FBAF2A","#86388F","#55B947","#1DBEEC","#C21F33","#111111"]},
      "legend": {"title": null, "orient": "none", "legendX": 682, "legendY": 565, "symbolType": "M-6.8,0H6.8", "symbolSize": 100, "symbolOffset": 26.5, "labelOffset": 33,
        "labelFont": "Liberation Serif", "labelFontSize": 21, "labelColor": "#1a1a1a", "labelLimit": 0, "rowPadding": 4, "padding": 6,
        "strokeColor": "#262626", "fillColor": "#ffffff"}},
    "strokeDash": {"field": "m", "type": "nominal",
      "scale": {"domain": ["Logistic Regression (LR)","ensLR (2xLR)","Linear SVM (LSVM)","ensLSVM (10xLSVM)","Decision Tree (DT)","Random Forest (RF)","AdaBoost-DT (AdB)","Random Guess"],
        "range": [[1,0],[22,14],[1,0],[22,14],[1,0],[22,14],[22,14],[1.5,8]]}},
    "strokeWidth": {"field": "m", "type": "nominal",
      "scale": {"domain": ["Logistic Regression (LR)","ensLR (2xLR)","Linear SVM (LSVM)","ensLSVM (10xLSVM)","Decision Tree (DT)","Random Forest (RF)","AdaBoost-DT (AdB)","Random Guess"],
        "range": [3,3,3,3,3,3,3,1.6]}},
    "order": {"value": null}
  }
}
